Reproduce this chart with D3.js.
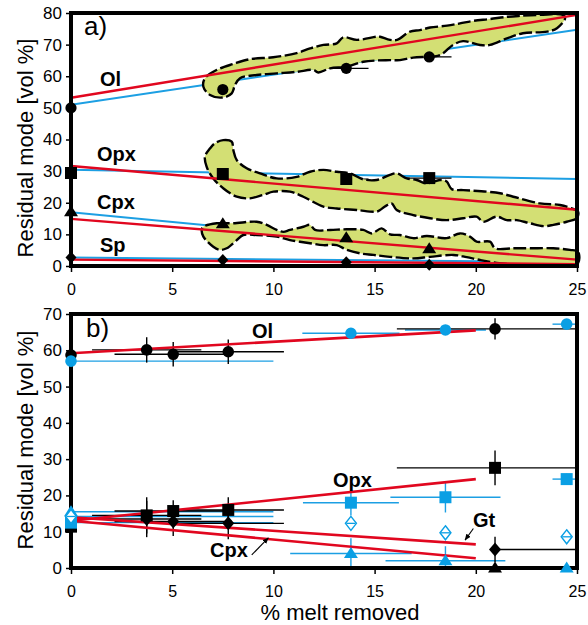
<!DOCTYPE html>
<html>
<head>
<meta charset="utf-8">
<script src="https://cdn.jsdelivr.net/npm/d3@7"></script>
<style>
  body { margin: 0; background: #fff; }
  svg { display: block; }
  text { font-family: "Liberation Sans", Arial, sans-serif; }
</style>
</head>
<body>
<div id="chart"></div>
<script>
// ---------- axes ----------
const xTicks = [0, 5, 10, 15, 20, 25];
const yTicksA = [0, 10, 20, 30, 40, 50, 60, 70, 80];
const yTicksB = [0, 10, 20, 30, 40, 50, 60, 70];

// ---------- panel a: residual modes vs. melt removed ----------
const meltA = [0, 7.5, 13.6, 17.7];
const meltErrA = [0, 0.57, 1.1, 1.1];
const olA = [50.0, 55.8, 62.5, 66.1];
const opxA = [29.4, 29.1, 27.5, 27.8];
const cpxA = [17.1, 13.3, 8.9, 5.4];
const spA = [2.7, 1.9, 1.2, 0.4];

// model trends (x = 0 and x = 25)
const fitMeltA = [0, 25];
const olBlueA = [51.0, 74.7];
const olRedA = [53.2, 79.4];
const opxBlueA = [30.4, 27.5];
const opxRedA = [31.6, 17.8];
const cpxBlueA = [17.0, 1.7];
const cpxRedA = [14.9, 2.0];
const spBlueA = [2.7, 1.2];
const spRedA = [2.0, 0.6];

// outlines of the sampled composition fields, [melt %, mode %]
const olField = [
  [6.54, 56.7], [6.87, 54.1], [7.52, 53.3], [7.94, 54.6], [8.10, 57.2], [8.35, 59.4],
  [9.17, 60.4], [10.16, 60.9], [11.15, 61.4], [11.97, 62.0], [12.22, 61.2], [12.80, 62.5],
  [13.62, 63.0], [14.44, 64.6], [15.76, 65.1], [16.25, 65.1], [16.90, 65.9], [18.23, 66.7],
  [18.87, 69.9], [19.37, 71.1], [20.21, 69.9], [20.70, 69.9], [21.54, 72.0], [22.33, 73.6],
  [23.52, 74.1], [24.01, 75.2], [24.41, 78.3], [24.31, 79.4], [23.17, 79.4], [22.18, 79.1],
  [21.54, 78.8], [20.70, 78.1], [19.86, 77.5], [19.22, 76.7], [18.58, 76.0], [17.74, 75.4],
  [17.24, 74.6], [16.75, 74.1], [16.11, 71.5], [15.76, 71.5], [15.27, 72.5], [15.10, 72.5],
  [14.12, 71.5], [13.45, 72.3], [13.13, 70.4], [12.47, 69.9], [11.81, 68.8], [11.15, 67.3],
  [9.99, 66.0], [8.84, 65.4], [8.02, 63.9], [7.20, 62.0], [6.62, 59.4]
];
const opxField = [
  [7.11, 38.8], [7.52, 39.8], [7.94, 39.3], [8.02, 36.7], [8.19, 33.5], [8.68, 30.9],
  [9.34, 29.3], [10.16, 27.7], [11.15, 28.2], [11.81, 29.8], [12.47, 30.4], [13.13, 29.8],
  [13.78, 29.3], [14.44, 27.4], [15.10, 27.2], [15.76, 28.8], [16.09, 29.3], [16.59, 27.7],
  [17.08, 27.2], [17.57, 26.1], [18.23, 27.2], [18.56, 26.7], [18.81, 24.3], [19.38, 24.0],
  [20.54, 23.5], [21.20, 23.0], [21.85, 21.9], [23.17, 19.8], [24.16, 19.3], [24.74, 18.2],
  [25.05, 17.2], [24.99, 15.1], [24.49, 14.0], [23.83, 13.0], [23.34, 12.6], [22.68, 13.5],
  [22.02, 14.5], [21.53, 14.5], [21.03, 15.6], [20.37, 14.0], [20.04, 15.6], [19.38, 15.1],
  [18.56, 14.5], [17.74, 15.1], [16.91, 16.1], [16.09, 17.7], [15.84, 19.8], [15.51, 18.8],
  [15.27, 17.7], [15.10, 17.2], [14.12, 17.7], [13.13, 18.2], [12.47, 18.8], [11.48, 21.9],
  [10.82, 23.5], [10.00, 23.5], [9.50, 22.5], [8.84, 21.4], [8.19, 21.9], [7.52, 24.6],
  [7.03, 27.7], [6.70, 31.4], [6.62, 34.6], [6.87, 37.2]
];
const cpxField = [
  [6.54, 12.4], [7.20, 13.5], [8.02, 13.5], [9.17, 14.0], [9.67, 13.0], [10.16, 11.4],
  [10.49, 10.8], [10.82, 11.4], [11.48, 12.4], [11.81, 13.0], [12.06, 11.4], [12.80, 11.4],
  [13.62, 11.6], [14.44, 11.4], [14.86, 10.3], [15.35, 11.9], [15.76, 10.0], [16.25, 9.8],
  [16.91, 8.8], [17.57, 9.5], [18.56, 8.8], [19.22, 10.3], [19.71, 9.3], [20.04, 7.7],
  [20.70, 7.7], [20.95, 5.6], [21.85, 5.6], [22.68, 5.6], [23.83, 5.6], [24.65, 5.1],
  [25.05, 4.5], [25.05, 0.9], [24.49, 0.3], [23.50, 0.0], [22.18, 0.3], [21.03, 1.0],
  [20.21, 1.9], [19.55, 2.8], [18.89, 3.5], [17.74, 2.9], [16.91, 2.4], [15.76, 2.9],
  [14.94, 3.5], [14.28, 4.0], [13.62, 5.1], [13.13, 6.6], [12.47, 6.6], [11.81, 7.2],
  [10.82, 8.2], [10.16, 9.3], [9.17, 9.8], [8.51, 9.8], [8.19, 8.2], [7.69, 5.6],
  [7.36, 5.1], [7.03, 6.1], [6.54, 9.3], [6.46, 11.4]
];

// ---------- panel b: experimental residues ----------
// black data set
const meltK = [0, 3.74, 5.05, 7.77, 20.95];
const meltErrK = [0, 2.7, 2.9, 2.75, 4.85];
const olK = [58.7, 60.1, 58.9, 59.6, 65.9];
const olErrK = [0, 3.5, 3.4, 3.4, 2.9];
const opxK = [11.4, 14.5, 15.7, 16.0, 27.6];
const opxErrK = [0, 5.0, 3.0, 3.5, 4.8];
const cpxK = [13.2, 13.5, 12.8, 12.3, 5.1];
const cpxErrK = [0, 5.0, 4.0, 4.4, 3.5];
const cpxMeltErrLoK = [0, 2.7, 2.9, 2.75, 0.25];
const gtK = [null, null, null, null, 0];

// blue data set
const meltS = [0, 13.83, 18.5, 24.49];
const olS = [57.0, 64.7, 65.6, 67.2];
const olMeltErrS = [10, 2.4, 2.0, 0.7];
const opxS = [12.5, 18.0, 19.5, 24.5];
const opxMeltErrS = [10, 2.37, 2.72, 0.7];
const opxErrS = [0, 3.5, 4.2, 1.5];
const cpxS = [15.5, 4.0, 2.0, 0.0];
const cpxMeltErrS = [10, 3.0, 2.96, 0];
const cpxErrS = [0, 4.2, 4.0, 0];
const gtS = [14.2, 12.3, 9.7, 8.6];
const gtMeltErrS = [10, 0, 0, 0];

// model trends (x = 0 and x = 20)
const fitMeltB = [0, 20];
const olFitB = [59.2, 65.5];
const opxFitB = [13.0, 24.5];
const gtFitB = [14.0, 6.5];
const cpxFitB = [13.0, 2.7];

// ---------- drawing ----------
const W = 588, H = 625;
const RED = "#e1071f", BLUE = "#1c9fe3", BLUE_MK = "#0a9fe4", FIELD = "#d3df74";

const svg = d3.select("#chart").append("svg").attr("width", W).attr("height", H);

const xA = d3.scaleLinear().domain([0, 25]).range([71, 577]);
const yA = d3.scaleLinear().domain([0, 80]).range([266, 13]);
const xB = d3.scaleLinear().domain([0, 25]).range([71, 577]);
const yB = d3.scaleLinear().domain([0, 70]).range([568, 314]);

// marker shapes centred on the point: circle, square, flat triangle, diamond
const shapes = {
  circle: r => d3.symbol().type(d3.symbolCircle).size(Math.PI * r * r)(),
  square: s => `M${-s / 2},${-s / 2}h${s}v${s}h${-s}Z`,
  triangle: ([w, h]) => `M0,${-h * 0.6}L${w / 2},${h * 0.4}L${-w / 2},${h * 0.4}Z`,
  diamond: ([w, h]) => `M0,${-h / 2}L${w / 2},0L0,${h / 2}L${-w / 2},0Z`
};

function clip(id, x, y) {
  svg.append("clipPath").attr("id", id).append("rect")
    .attr("x", x.range()[0]).attr("y", y.range()[1])
    .attr("width", x.range()[1] - x.range()[0]).attr("height", y.range()[0] - y.range()[1]);
}

function fitLine(g, x, y, xs, ys, color, width) {
  g.append("line")
    .attr("x1", x(xs[0])).attr("y1", y(ys[0]))
    .attr("x2", x(xs[1])).attr("y2", y(ys[1]))
    .attr("stroke", color).attr("stroke-width", width);
}

function axes(x, y, yTicks) {
  const ax = svg.append("g").attr("transform", `translate(${x.range()[0]},0)`)
    .call(d3.axisLeft(y).tickValues(yTicks).tickSize(5).tickPadding(4));
  ax.select(".domain").remove();
  ax.attr("font-size", 17).attr("font-family", null);
  ax.selectAll("line").attr("stroke-width", 1.5);
  const bx = svg.append("g").attr("transform", `translate(0,${y.range()[0]})`)
    .call(d3.axisBottom(x).tickValues(xTicks).tickSize(6).tickPadding(12));
  bx.select(".domain").remove();
  bx.attr("font-size", 16).attr("font-family", null);
  bx.selectAll("line").attr("stroke-width", 1.5);
}

function frame(x, y) {
  svg.append("rect")
    .attr("x", x.range()[0]).attr("y", y.range()[1])
    .attr("width", x.range()[1] - x.range()[0]).attr("height", y.range()[0] - y.range()[1])
    .attr("fill", "none").attr("stroke", "#000").attr("stroke-width", 4);
}

function label(txt, px, py, size, bold) {
  svg.append("text").attr("x", px).attr("y", py)
    .attr("font-size", size).attr("font-weight", bold ? "bold" : "normal").text(txt);
}

function yTitle(cy) {
  svg.append("text")
    .attr("transform", `translate(33,${cy}) rotate(-90)`)
    .attr("text-anchor", "middle").attr("font-size", 22)
    .text("Residual mode [vol %]");
}

// ===== panel a =====
clip("clipA", xA, yA);
const gA = svg.append("g").attr("clip-path", "url(#clipA)");

[olBlueA, opxBlueA, cpxBlueA, spBlueA].forEach(v =>
  fitLine(gA, xA, yA, fitMeltA, v, BLUE, 2));

// horizontal uncertainty on measured points
[olA, opxA].forEach(series => {
  meltA.forEach((m, i) => {
    if (!meltErrA[i]) return;
    gA.append("line")
      .attr("x1", xA(m - meltErrA[i])).attr("x2", xA(m + meltErrA[i]))
      .attr("y1", yA(series[i])).attr("y2", yA(series[i]))
      .attr("stroke", "#000").attr("stroke-width", 1.3);
  });
});

const fieldLine = d3.line().x(d => xA(d[0])).y(d => yA(d[1]))
  .curve(d3.curveCatmullRomClosed.alpha(0.5));
[olField, opxField, cpxField].forEach(f => {
  svg.append("path").attr("d", fieldLine(f))
    .attr("fill", FIELD).attr("stroke", "#000").attr("stroke-width", 2.4)
    .attr("stroke-dasharray", "13,3.5");
});

[olRedA, opxRedA, cpxRedA, spRedA].forEach(v =>
  fitLine(svg, xA, yA, fitMeltA, v, RED, 2.4));

axes(xA, yA, yTicksA);
frame(xA, yA);

const markA = [
  [olA, shapes.circle(5.6)],
  [opxA, shapes.square(12)],
  [cpxA, shapes.triangle([14, 11])],
  [spA, shapes.diamond([11, 12])]
];
markA.forEach(([series, d]) => {
  svg.append("g").selectAll("path").data(series).join("path")
    .attr("d", d)
    .attr("transform", (v, i) => `translate(${xA(meltA[i])},${yA(v)})`)
    .attr("fill", "#000");
});

label("a)", 84, 35, 26, false);
label("Ol", 100, 86, 20, true);
label("Opx", 97, 161, 20, true);
label("Cpx", 97, 209, 20, true);
label("Sp", 100, 252, 20, true);
yTitle(148);

// ===== panel b =====
clip("clipB", xB, yB);
const gB = svg.append("g").attr("clip-path", "url(#clipB)");

function errBars(melt, vals, mErrLo, mErrHi, vErr, color) {
  melt.forEach((m, i) => {
    const v = vals[i];
    if (v === null) return;
    const lo = mErrLo ? mErrLo[i] : 0, hi = mErrHi ? mErrHi[i] : 0;
    if (lo || hi) {
      gB.append("line")
        .attr("x1", xB(m - lo)).attr("x2", xB(m + hi))
        .attr("y1", yB(v)).attr("y2", yB(v))
        .attr("stroke", color).attr("stroke-width", 1.4);
    }
    if (vErr && vErr[i]) {
      gB.append("line")
        .attr("x1", xB(m)).attr("x2", xB(m))
        .attr("y1", yB(v - vErr[i])).attr("y2", yB(v + vErr[i]))
        .attr("stroke", color).attr("stroke-width", 1.4);
    }
  });
}

// blue set uncertainties
errBars(meltS, olS, olMeltErrS, olMeltErrS, null, BLUE);
errBars(meltS, gtS, gtMeltErrS, gtMeltErrS, null, BLUE);
errBars(meltS, opxS, opxMeltErrS, opxMeltErrS, opxErrS, BLUE);
errBars(meltS, cpxS, cpxMeltErrS, cpxMeltErrS, cpxErrS, BLUE);
// black set uncertainties
errBars(meltK, olK, meltErrK, meltErrK, olErrK, "#000");
errBars(meltK, opxK, meltErrK, meltErrK, opxErrK, "#000");
errBars(meltK, cpxK, cpxMeltErrLoK, meltErrK, cpxErrK, "#000");

[olFitB, opxFitB, gtFitB, cpxFitB].forEach(v => fitLine(svg, xB, yB, fitMeltB, v, RED, 2.6));

axes(xB, yB, yTicksB);
frame(xB, yB);

function marks(melt, vals, d, fill, stroke) {
  svg.append("g").selectAll("path")
    .data(vals.map((v, i) => [melt[i], v]).filter(p => p[1] !== null))
    .join("path")
    .attr("d", d)
    .attr("transform", p => `translate(${xB(p[0])},${yB(p[1])})`)
    .attr("fill", fill)
    .attr("stroke", stroke || "none").attr("stroke-width", 1.4);
}

marks(meltK, olK, shapes.circle(5.8), "#000");
marks(meltK, opxK, shapes.square(12), "#000");
marks(meltK, cpxK, shapes.diamond([12, 14]), "#000");
marks(meltK, gtK, shapes.triangle([14, 11]), "#000");

marks(meltS, olS, shapes.circle(5.8), BLUE_MK);
marks(meltS, opxS, shapes.square(12), BLUE_MK);
marks(meltS, cpxS, shapes.triangle([14, 11]), BLUE_MK);
marks(meltS, gtS, shapes.diamond([11, 14]), "#fff", BLUE_MK);
// bar across each open garnet symbol
svg.append("g").selectAll("line").data(gtS).join("line")
  .attr("x1", (v, i) => xB(meltS[i]) - 4.5).attr("x2", (v, i) => xB(meltS[i]) + 4.5)
  .attr("y1", v => yB(v)).attr("y2", v => yB(v))
  .attr("stroke", BLUE_MK).attr("stroke-width", 1.3);

label("b)", 86, 337, 26, false);
label("Ol", 252, 338, 20, true);
label("Opx", 333, 487, 20, true);
label("Gt", 473, 527, 20, true);
label("Cpx", 210, 557, 20, true);

// leader arrows for Gt and Cpx labels
svg.append("defs").append("marker").attr("id", "arr")
  .attr("viewBox", "0 0 10 10").attr("refX", 9).attr("refY", 5)
  .attr("markerWidth", 6).attr("markerHeight", 6).attr("orient", "auto")
  .append("path").attr("d", "M0,1 L10,5 L0,9 Z").attr("fill", "#000");
[[[19.88, 10.9], [19.47, 7.7]], [[8.93, 3.6], [9.75, 8.3]]].forEach(([a, b]) => {
  svg.append("line")
    .attr("x1", xB(a[0])).attr("y1", yB(a[1]))
    .attr("x2", xB(b[0])).attr("y2", yB(b[1]))
    .attr("stroke", "#000").attr("stroke-width", 1.1)
    .attr("marker-end", "url(#arr)");
});

yTitle(440);
svg.append("text").attr("x", 340).attr("y", 620).attr("text-anchor", "middle")
  .attr("font-size", 22).text("% melt removed");
</script>
</body>
</html>
